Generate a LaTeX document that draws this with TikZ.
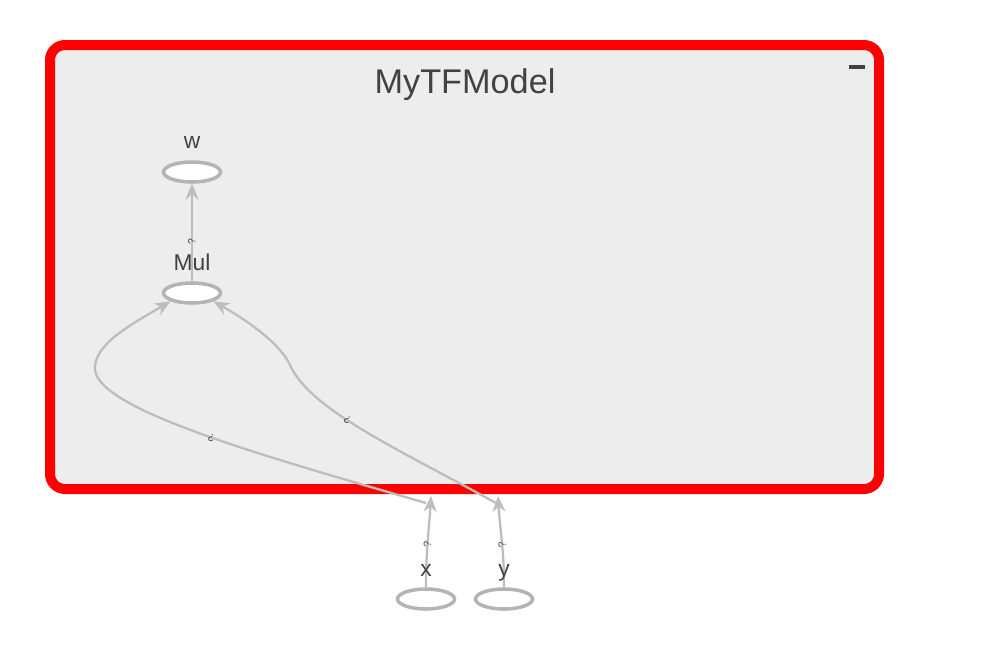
\documentclass[tikz,border=0pt]{standalone}
\usepackage{fontspec}
\setmainfont{Liberation Sans}
\usetikzlibrary{arrows.meta,positioning,shapes.geometric}

\definecolor{txtgray}{HTML}{424242}
\definecolor{edgegray}{HTML}{BDBDBD}
\definecolor{opgray}{HTML}{B4B4B4}
\definecolor{boxgray}{HTML}{EDEDED}

\tikzset{
  op/.style={ellipse, draw=opgray, line width=2pt, fill=white,
    minimum width=1.14cm, minimum height=0.4cm, inner sep=0pt},
  lbl/.style={text=txtgray, font=\fontsize{13}{14}\selectfont, inner sep=0pt, text depth=0pt},
  flow/.style={draw=edgegray, line width=1.3pt, -{Stealth[length=9pt,width=7.5pt]}},
  elbl/.style={text=txtgray, font=\fontsize{6}{6}\selectfont, sloped, allow upside down, inner sep=0.5pt},
}

\begin{document}
\begin{tikzpicture}[x=0.02cm, y=-0.02cm]
  \useasboundingbox (0,0) rectangle (982,646);

  % Group box
  \draw[red, line width=0.2cm, fill=boxgray, rounded corners=0.3cm] (50,45) rectangle (879,489);
  \node[text=txtgray, font=\fontsize{19.5}{22}\selectfont] (title) at (465,85) {MyTFModel};
  \node[fill=txtgray, minimum width=0.32cm, minimum height=0.07cm, inner sep=0pt] (collapse) at (857,67) {};

  % Ops
  \node[op] (w) at (192,172) {};
  \node[op] (mul) at (192,293) {};
  \node[op] (x) at (426,599) {};
  \node[op] (y) at (504,599) {};

  % Ports on the box border
  \coordinate (xport) at (431,496);
  \coordinate (yport) at (498,496);
  \coordinate (xstub) at (426,503);
  \coordinate (ystub) at (496,503);

  % Edges
  \draw[flow] (mul) -- (w) node[elbl, pos=0.41] {?};
  \draw[flow] (x.north) .. controls +(0,-40) and +(-2,35) .. (xport) node[elbl, pos=0.44] {?};
  \draw[flow] (y.north) .. controls +(0,-40) and +(2,35) .. (yport) node[elbl, pos=0.44] {?};
  \draw[flow] (xstub) .. controls (260,455) and (100,410) .. (95,370) node[elbl, pos=0.47] {?}
    .. controls (93,345) and (130,325) .. (mul.south west);
  \draw[flow] (ystub) .. controls (400,450) and (310,410) .. (290,365) node[elbl, pos=0.58] {?}
    .. controls (281,345) and (250,322) .. (mul.south east);

  % Labels
  \node[lbl, above=0.22cm of w] (wlbl) {w};
  \node[lbl, above=0.2cm of mul] (mullbl) {Mul};
  \node[lbl, above=0.2cm of x] (xlbl) {x};
  \node[lbl, above=0.2cm of y] (ylbl) {y};
\end{tikzpicture}
\end{document}
